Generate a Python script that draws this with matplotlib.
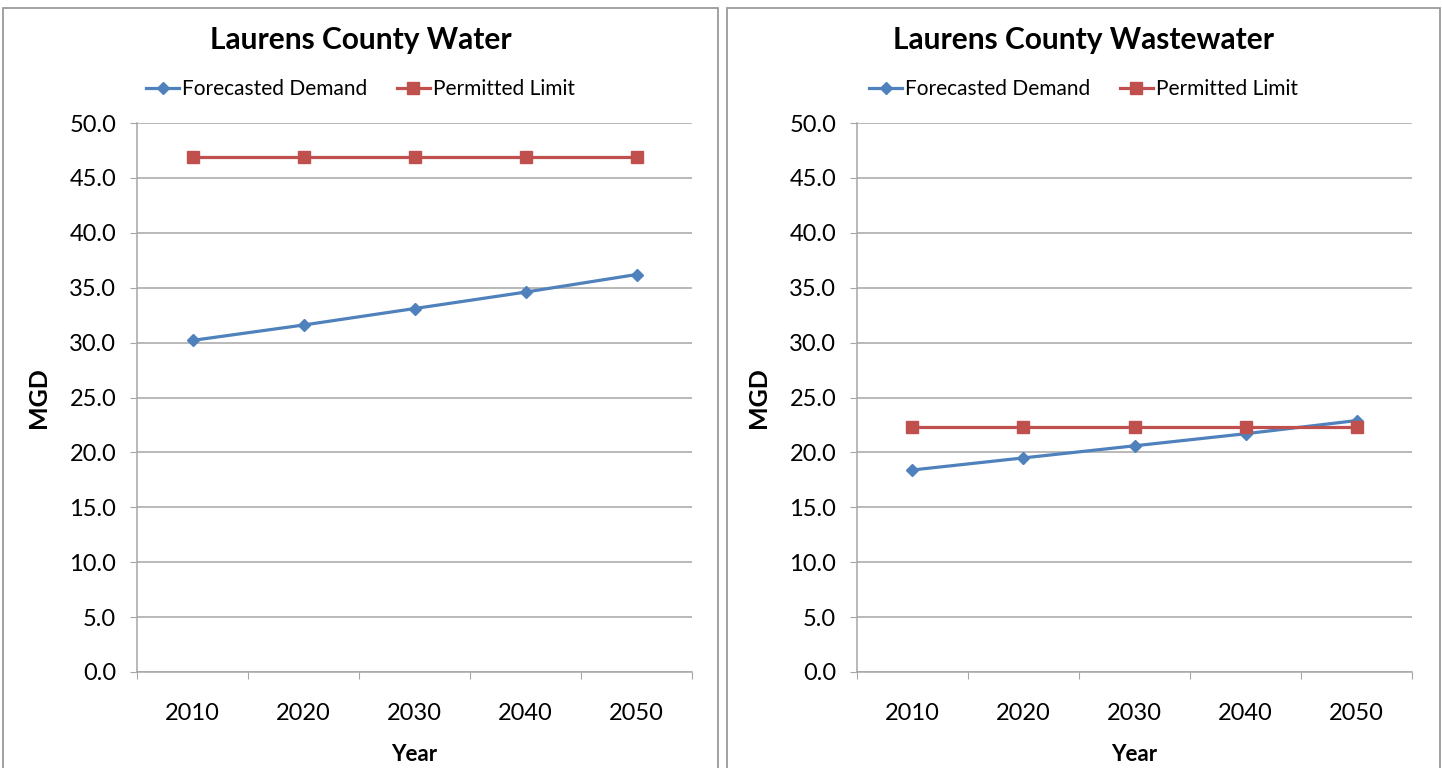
import matplotlib.pyplot as plt
from matplotlib.patches import Rectangle

years = ["2010", "2020", "2030", "2040", "2050"]
water_demand = [30.2, 31.6, 33.1, 34.6, 36.2]
water_limit = [46.9, 46.9, 46.9, 46.9, 46.9]
waste_demand = [18.4, 19.5, 20.6, 21.7, 22.9]
waste_limit = [22.3, 22.3, 22.3, 22.3, 22.3]
y_ticks = [0, 5, 10, 15, 20, 25, 30, 35, 40, 45, 50]

BLUE = '#4F81BD'
RED = '#C0504D'
GRID = '#a6a6a6'
plt.rcParams['font.family'] = ['Lato', 'DejaVu Sans']

W, H = 1442, 768
fig = plt.figure(figsize=(W / 100, H / 100), dpi=100)


def fx(px):
    return px / W


def fy(py):
    return 1 - py / H


def draw_panel(x0, x1, ax_left, title, demand, limit):
    # panel frame
    fig.patches.append(Rectangle((fx(x0), fy(H + 20)), fx(x1 - x0), fy(8) - fy(H + 20),
                                 transform=fig.transFigure, fill=False,
                                 edgecolor='#9a9a9a', linewidth=1.3))
    ax = fig.add_axes([fx(ax_left), fy(672), fx(555), fy(123) - fy(672)])
    x = range(len(years))
    ax.plot(x, demand, color=BLUE, linewidth=2.3, marker='D', markersize=6,
            label='Forecasted Demand', zorder=3)
    ax.plot(x, limit, color=RED, linewidth=2.3, marker='s', markersize=8,
            label='Permitted Limit', zorder=3)
    ax.set_xlim(-0.5, len(years) - 0.5)
    ax.set_ylim(0, 50)
    ax.set_yticks(y_ticks)
    ax.set_yticklabels([f"{v:.1f}" for v in y_ticks], fontsize=17)
    ax.tick_params(axis='y', length=5, color=GRID, pad=10)
    ax.set_xticks([i - 0.5 for i in range(len(years) + 1)])
    ax.set_xticklabels([])
    ax.set_xticks(list(x), minor=True)
    ax.set_xticklabels(years, minor=True, fontsize=17)
    ax.tick_params(axis='x', which='major', length=5, color=GRID, direction='out')
    ax.tick_params(axis='x', which='minor', length=0, pad=22)
    ax.yaxis.grid(True, color=GRID, linewidth=1.1)
    ax.set_axisbelow(True)
    for s in ['top', 'right']:
        ax.spines[s].set_visible(False)
    for s in ['left', 'bottom']:
        ax.spines[s].set_color(GRID)
        ax.spines[s].set_linewidth(1.1)
    ax.set_ylabel('MGD', fontsize=18, fontweight='bold', labelpad=14)
    ax.set_xlabel('Year', fontsize=16, fontweight='bold', labelpad=14.5)
    mid = (x0 + x1) / 2
    fig.text(fx(mid), fy(40), title, ha='center', va='center',
             fontsize=21.5, fontweight='bold')
    fig.legend(handles=ax.get_lines(), loc='center', ncol=2, frameon=False,
               bbox_to_anchor=(fx(mid), fy(89)), fontsize=15,
               handlelength=1.6, handletextpad=0.15, columnspacing=1.4)
    return ax


draw_panel(3, 718, 137, 'Laurens County Water', water_demand, water_limit)
draw_panel(727, 1440, 857, 'Laurens County Wastewater', waste_demand, waste_limit)

fig.savefig('out.png', dpi=100)
